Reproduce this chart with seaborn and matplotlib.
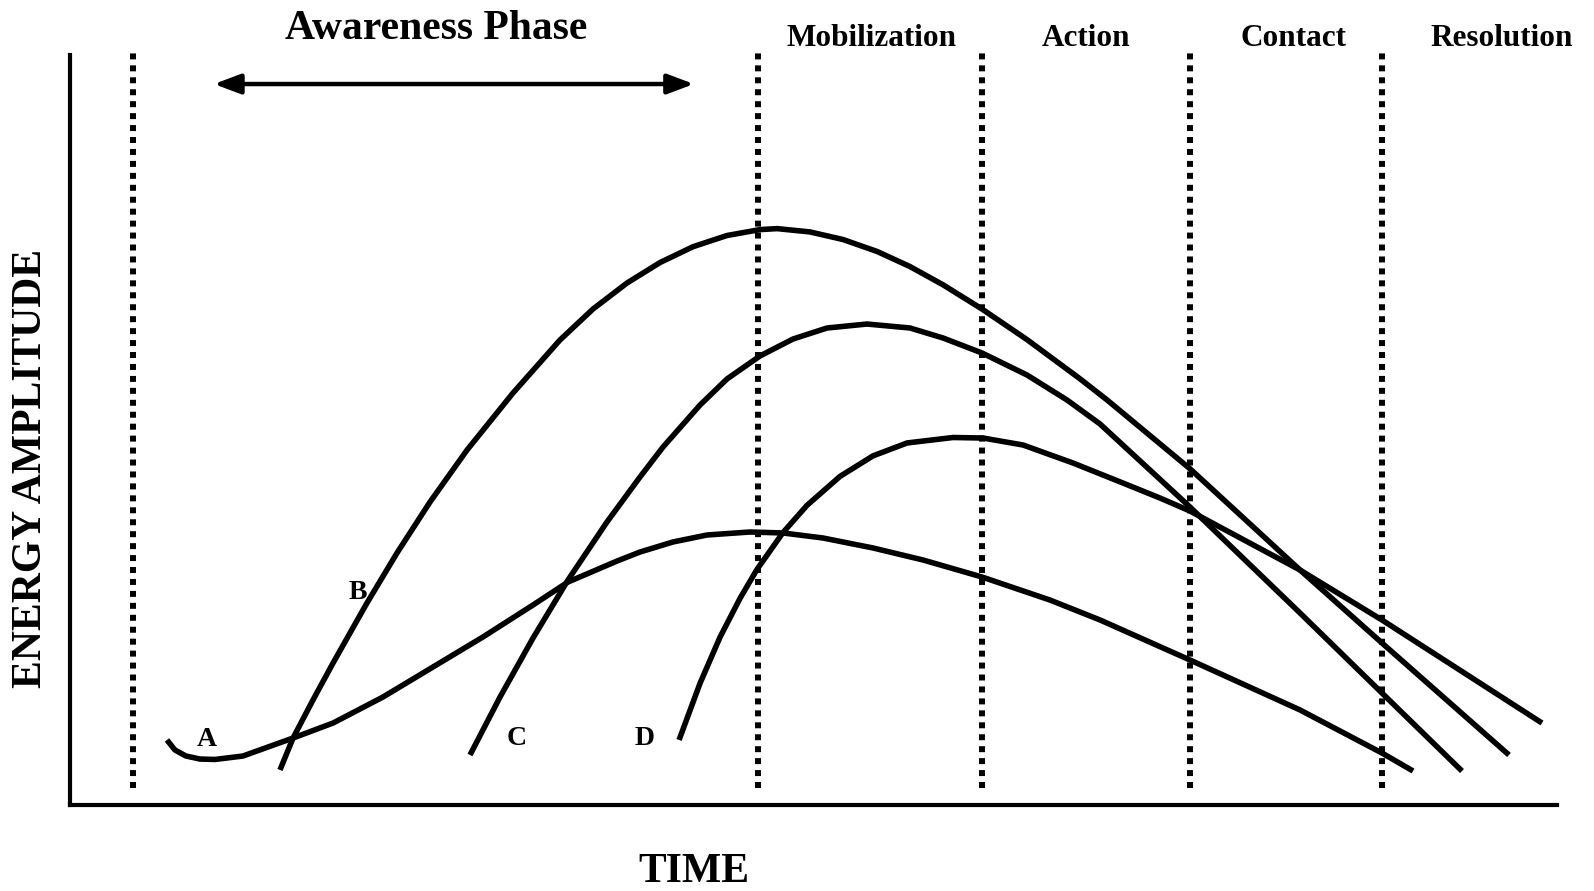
import matplotlib
matplotlib.use("Agg")
import matplotlib.pyplot as plt
import seaborn as sns
import pandas as pd

# ---- data (time / energy in arbitrary 0-100 units) ----
a_time = [6.52, 7.06, 7.80, 8.74, 9.75, 11.63, 15.00, 17.69, 21.05, 24.41, 27.77, 31.14, 33.49, 36.79, 38.33, 40.55, 42.84, 45.73, 47.95, 50.64, 54.00, 57.36, 61.33, 65.90, 69.27, 75.32, 82.72, 88.23, 90.32]
a_energy = [8.67, 7.33, 6.53, 6.13, 6.07, 6.53, 8.93, 10.93, 14.40, 18.40, 22.40, 26.67, 29.73, 32.53, 33.73, 35.07, 36.00, 36.40, 36.27, 35.60, 34.27, 32.67, 30.40, 27.33, 24.67, 19.33, 12.67, 6.93, 4.53]

b_time = [14.12, 15.00, 16.34, 17.69, 19.97, 21.99, 24.21, 26.70, 29.79, 32.95, 35.17, 37.46, 39.68, 41.90, 44.18, 46.40, 47.55, 49.76, 51.98, 54.27, 56.49, 58.71, 61.33, 64.36, 67.92, 69.74, 75.32, 82.72, 88.23, 96.77]
b_energy = [4.67, 8.93, 14.00, 18.93, 26.93, 33.60, 40.40, 47.33, 54.93, 62.00, 66.13, 69.60, 72.33, 74.44, 75.93, 76.72, 76.85, 76.41, 75.40, 73.81, 71.79, 69.36, 66.13, 62.05, 56.83, 54.01, 44.83, 31.33, 21.60, 6.67]

c_time = [26.90, 28.92, 31.14, 33.49, 36.11, 38.33, 39.88, 42.37, 44.18, 46.40, 48.62, 50.91, 53.60, 56.49, 58.71, 61.33, 64.36, 67.05, 69.27, 75.32, 82.72, 88.23, 93.61]
c_energy = [6.67, 14.40, 22.27, 30.00, 37.73, 43.73, 47.73, 53.33, 56.80, 59.87, 62.13, 63.60, 64.13, 63.60, 62.27, 60.27, 57.33, 54.00, 50.80, 39.73, 25.60, 14.93, 4.53]

d_time = [40.96, 42.37, 43.71, 45.06, 46.20, 47.95, 49.56, 51.78, 54.00, 56.29, 59.38, 61.40, 64.09, 67.45, 70.81, 73.30, 75.32, 82.72, 88.23, 98.99]
d_energy = [8.67, 16.23, 22.36, 27.56, 31.41, 36.33, 39.95, 43.81, 46.55, 48.27, 49.00, 48.93, 48.00, 45.60, 42.93, 40.93, 39.20, 31.33, 24.67, 10.93]

curve_names = ["A", "B", "C", "D"]
curve_label_x = [9.21, 19.37, 30.06, 38.67]
curve_label_y = [8.8, 28.27, 8.93, 8.93]

phase_bounds = [4.24, 46.27, 61.33, 75.32, 88.23]
phase_names = ["Mobilization", "Action", "Contact", "Resolution"]
phase_label_x = [53.93, 68.33, 82.25, 96.30]

awareness_label = "Awareness Phase"
awareness_span = [9.68, 41.96]

# ---- styling ----
sns.set_theme(style="white")
plt.rcParams["font.family"] = ["Liberation Serif", "DejaVu Serif"]
plt.rcParams["font.weight"] = "bold"
plt.rcParams["text.color"] = "black"
plt.rcParams["axes.labelcolor"] = "black"

fig = plt.figure(figsize=(15.94, 8.91), dpi=100)
ax = fig.add_axes([70 / 1594, 86 / 891, 1487 / 1594, 750 / 891])

frames = []
for name, t, e in zip(curve_names, [a_time, b_time, c_time, d_time],
                      [a_energy, b_energy, c_energy, d_energy]):
    frames.append(pd.DataFrame({"time": t, "energy": e, "curve": name}))
df = pd.concat(frames, ignore_index=True)

for name in curve_names:
    sub = df[df["curve"] == name]
    sns.lineplot(data=sub, x="time", y="energy", ax=ax, color="black",
                 linewidth=4.0, estimator=None, sort=False, legend=False,
                 solid_capstyle="butt", solid_joinstyle="round")

# phase boundaries (dotted)
ax.vlines(phase_bounds, 2.27, 100.4, colors="black", linewidth=4.3,
          linestyles=(0, (1, 1)), clip_on=False, capstyle="butt")

# curve labels
for name, x, y in zip(curve_names, curve_label_x, curve_label_y):
    ax.text(x, y, name, fontsize=20, fontweight="bold", ha="center",
            va="center", color="black")

# phase labels
for name, x in zip(phase_names, phase_label_x):
    ax.text(x, 102.2, name, fontsize=22.5, fontweight="bold", ha="center",
            va="center", clip_on=False, color="black")

# awareness phase arrow & label
ax.annotate("", xy=(awareness_span[1], 96.13), xytext=(awareness_span[0], 96.13),
            arrowprops=dict(arrowstyle="<|-|>,head_length=1.6,head_width=0.6",
                            lw=3.2, color="black", shrinkA=0, shrinkB=0,
                            mutation_scale=10),
            annotation_clip=False)
ax.text(24.6, 103.5, awareness_label, fontsize=30, fontweight="bold",
        ha="center", va="center", clip_on=False, color="black")

ax.set_xlim(0, 100)
ax.set_ylim(0, 100)
ax.set_xticks([])
ax.set_yticks([])
for s in ["top", "right"]:
    ax.spines[s].set_visible(False)
for s in ["left", "bottom"]:
    ax.spines[s].set_color("black")
    ax.spines[s].set_linewidth(3.0)

ax.set_xlabel("TIME", fontsize=30, fontweight="bold", color="black")
ax.set_ylabel("ENERGY AMPLITUDE", fontsize=30, fontweight="bold", color="black")
ax.xaxis.set_label_coords(0.4196, -0.0893)
ax.yaxis.set_label_coords(-0.0262, 0.449)
ax.xaxis.label.set_va("center")
ax.yaxis.label.set_va("center")

fig.savefig("out.png", dpi=100, facecolor="white")
